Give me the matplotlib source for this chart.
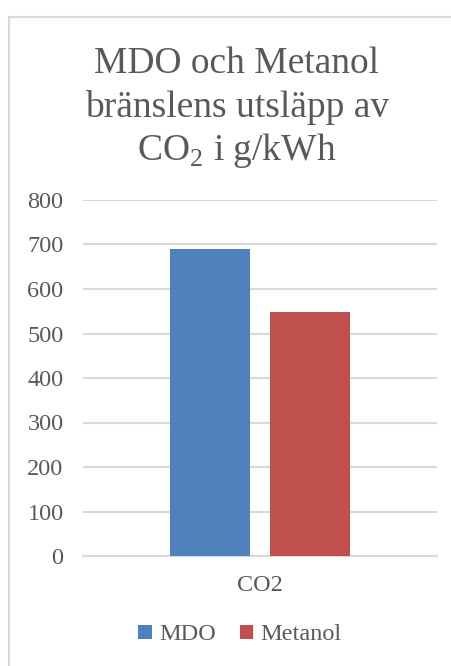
import numpy as np
import matplotlib.pyplot as plt
from matplotlib.patches import Rectangle
from matplotlib import font_manager as fm

# dados
categorias = ['CO2']
mdo = [690]
metanol = [548]
series = ['MDO', 'Metanol']
cores = ['#4F81BD', '#C0504D']
yticks = [0, 100, 200, 300, 400, 500, 600, 700, 800]

# fonte serifada (tipo Times)
caminho = [f.fname for f in fm.fontManager.ttflist if f.fname.endswith('LiberationSerif-Regular.ttf')]
if caminho:
    fm.fontManager.addfont(caminho[0])
plt.rcParams['font.family'] = 'serif'
plt.rcParams['font.serif'] = ['Liberation Serif', 'DejaVu Serif']
plt.rcParams['mathtext.fontset'] = 'custom'
plt.rcParams['mathtext.rm'] = 'Liberation Serif'
cinza = '#595959'

W, H = 452, 666
fig = plt.figure(figsize=(W/100, H/100), dpi=100)

# moldura (cortada na direita e embaixo)
fig.patches.append(Rectangle((9/W, -0.1), 1.2, 1 - 17/H + 0.1, transform=fig.transFigure,
                             fill=False, edgecolor='#d9d9d9', linewidth=1.5))

ax = fig.add_axes([83/W, (H-556)/H, (437-83)/W, (556-200)/H])
x = np.arange(len(categorias))
larg = 80/354
desl = 50/354
ax.bar(x - desl, mdo, larg, color=cores[0], label=series[0], zorder=3)
ax.bar(x + desl, metanol, larg, color=cores[1], label=series[1], zorder=3)

ax.set_xlim(-0.5, 0.5)
ax.set_ylim(0, 800)
ax.set_yticks(yticks)
ax.set_xticks(x)
ax.set_xticklabels(categorias)
ax.yaxis.grid(True, color='#d9d9d9', linewidth=1.5, zorder=0)
for s in ['top', 'right', 'left']:
    ax.spines[s].set_visible(False)
ax.spines['bottom'].set_color('#d9d9d9')
ax.spines['bottom'].set_linewidth(1.5)
ax.tick_params(axis='both', length=0, labelsize=17.5, labelcolor=cinza)
ax.tick_params(axis='y', pad=14)
ax.tick_params(axis='x', pad=14)

# titulo em tres linhas
linhas = ['MDO och Metanol', 'bränslens utsläpp av', r'CO$_2$ i g/kWh']
bases = [73, 117, 160]
for txt, b in zip(linhas, bases):
    fig.text(237/W, 1 - b/H, txt, ha='center', va='baseline', fontsize=27, color=cinza)

fig.legend(loc='center', bbox_to_anchor=(240/W, 1 - 635/H), ncol=2, frameon=False,
           fontsize=17.5, labelcolor=cinza, handlelength=0.55, handleheight=0.55,
           handletextpad=0.3, columnspacing=1.0)

fig.savefig('out.png', dpi=100)
